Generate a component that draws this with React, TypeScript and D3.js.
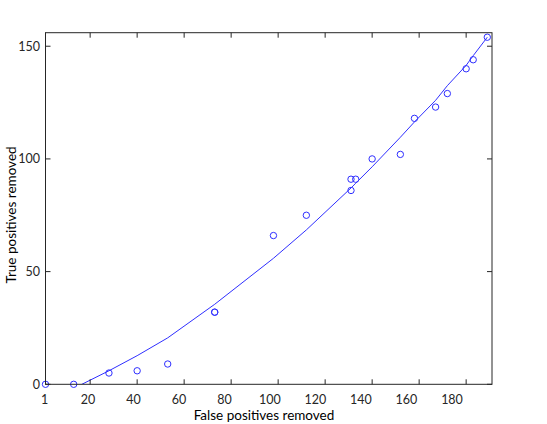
import React from "react";
import * as d3 from "d3";

// scatter values
const falsePos = [1, 13, 28, 40, 53, 73, 73, 98, 112, 131, 133, 131, 140, 152, 158, 167, 172, 180, 183, 189];
const truePos = [0, 0, 5, 6, 9, 32, 32, 66, 75, 91, 91, 86, 100, 102, 118, 123, 129, 140, 144, 154];

// fitted curve, evaluated at each sorted x
const fitX = [1, 13, 28, 40, 53, 73, 98, 112, 131, 133, 140, 152, 158, 167, 172, 180, 183, 189];
const fitY = [-7.3, -1.8, 6, 12.7, 20.6, 35.5, 55.9, 68.5, 87.1, 89.2, 96.5, 109.6, 116.4, 126, 132.5, 141.5, 145.8, 154];

const xTicks = [1, 20, 40, 60, 80, 100, 120, 140, 160, 180];
const yTicks = [0, 50, 100, 150];

const width = 547;
const height = 424;
const blue = "#2f2fff";
const axisColor = "#262626";
const font = "Lato, 'Liberation Sans', sans-serif";

const App = () => {
  // axes box
  const left = 45.5, right = 492, top = 32.7, bottom = 384.3;

  const x = d3.scaleLinear().domain([1, 191]).range([left, right]);
  const y = d3.scaleLinear().domain([0, 156]).range([bottom, top]);
  // tick labels sit slightly left of their ticks in the original render
  const xLabel = d3.scaleLinear().domain([1, 180]).range([44.7, 452]);

  const line = d3.line<number>()
    .x((d, i) => x(fitX[i]))
    .y((d) => y(d));

  const tickLen = 5;

  return (
    <svg width={width} height={height} style={{ position: "absolute", left: 0, top: 0, background: "#fff" }}>
      <defs>
        <clipPath id="plot-clip">
          <rect x={left} y={top} width={right - left} height={bottom - top} />
        </clipPath>
      </defs>
      <rect x={0} y={0} width={width} height={height} fill="#fff" />

      {/* fitted curve */}
      <path d={line(fitY) || ""} fill="none" stroke={blue} strokeWidth={1} clipPath="url(#plot-clip)" />

      {/* data points */}
      {falsePos.map((fx, i) => (
        <circle key={i} cx={x(fx)} cy={y(truePos[i])} r={3.2} fill="none" stroke={blue} strokeWidth={1} />
      ))}

      {/* box */}
      <rect x={left} y={top} width={right - left} height={bottom - top} fill="none" stroke={axisColor} strokeWidth={1} />

      {/* x ticks, bottom and top */}
      {xTicks.map((t) => (
        <g key={"x" + t}>
          <line x1={x(t)} x2={x(t)} y1={bottom} y2={bottom - tickLen} stroke={axisColor} />
          <line x1={x(t)} x2={x(t)} y1={top} y2={top + tickLen} stroke={axisColor} />
          <text x={xLabel(t)} y={404} textAnchor="middle" fontSize={12.5} fontFamily={font} fill={axisColor}>
            {t}
          </text>
        </g>
      ))}

      {/* y ticks, left and right */}
      {yTicks.map((t) => (
        <g key={"y" + t}>
          <line x1={left} x2={left + tickLen} y1={y(t)} y2={y(t)} stroke={axisColor} />
          <line x1={right} x2={right - tickLen} y1={y(t)} y2={y(t)} stroke={axisColor} />
          <text x={40} y={y(t)} dy="0.35em" textAnchor="end" fontSize={12.5} fontFamily={font} fill={axisColor}>
            {t}
          </text>
        </g>
      ))}

      {/* axis titles */}
      <text x={264} y={420} textAnchor="middle" fontSize={13.5} fontFamily={font} fill="#000">
        False positives removed
      </text>
      <text transform="translate(16,215) rotate(-90)" textAnchor="middle" fontSize={13.5} fontFamily={font} fill="#000">
        True positives removed
      </text>
    </svg>
  );
};

export default App;
